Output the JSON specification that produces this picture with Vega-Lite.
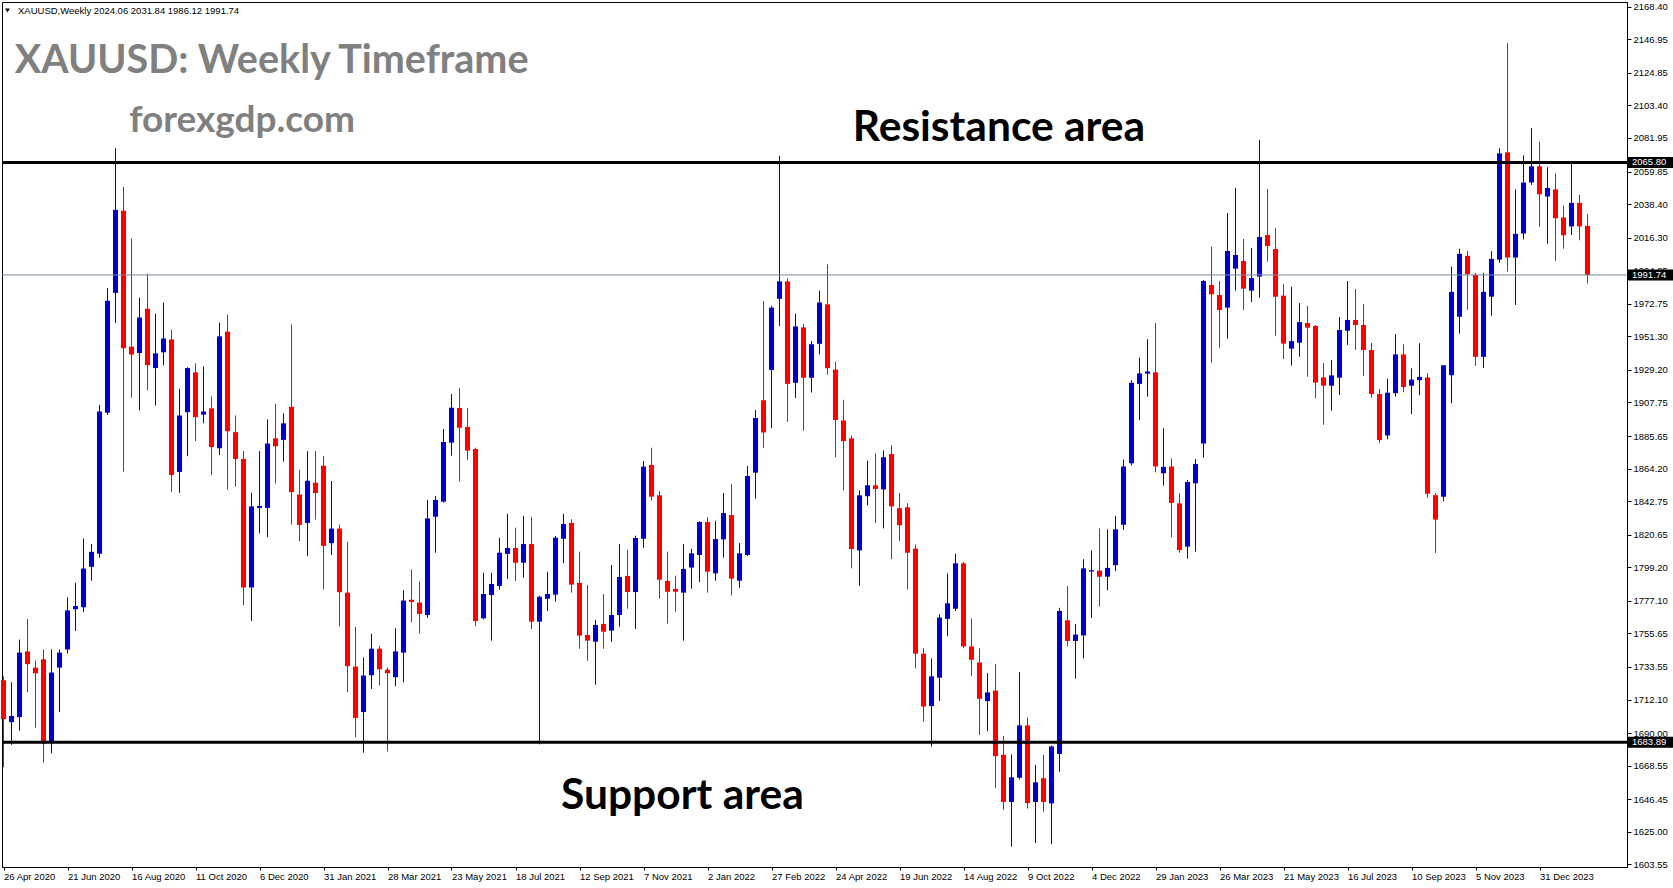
{
"$schema":"https://vega.github.io/schema/vega-lite/v6.json",
"width":1625,"height":865,
"autosize":{"type":"none"},
"padding":{"left":2,"top":2,"right":46,"bottom":21},
"background":"#ffffff",
"config":{"view":{"stroke":"#000000","strokeWidth":1},
"axis":{"grid":false,"labelFont":"Liberation Sans","labelFontSize":9.5,"labelColor":"#000000","tickColor":"#000000","domainColor":"#000000","labelOverlap":false,"labelFlush":false,"labelBound":false},
"font":"Liberation Sans"},
"datasets":{
"candles":[
{"date":"2020-04-26","open":1724.8,"high":1727.4,"low":1667.5,"close":1699.2},
{"date":"2020-05-03","open":1697.2,"high":1723.5,"low":1682.3,"close":1701.3},
{"date":"2020-05-10","open":1700.5,"high":1751.6,"low":1691.7,"close":1743.0},
{"date":"2020-05-17","open":1743.8,"high":1765.1,"low":1716.9,"close":1735.4},
{"date":"2020-05-24","open":1733.1,"high":1737.8,"low":1693.5,"close":1729.4},
{"date":"2020-05-31","open":1738.6,"high":1745.1,"low":1670.6,"close":1683.1},
{"date":"2020-06-07","open":1683.9,"high":1745.1,"low":1676.6,"close":1729.9},
{"date":"2020-06-14","open":1733.1,"high":1745.1,"low":1703.9,"close":1743.0},
{"date":"2020-06-21","open":1745.1,"high":1779.4,"low":1742.4,"close":1770.8},
{"date":"2020-06-28","open":1771.6,"high":1789.1,"low":1757.3,"close":1773.7},
{"date":"2020-07-05","open":1772.9,"high":1818.2,"low":1769.8,"close":1798.4},
{"date":"2020-07-12","open":1799.5,"high":1814.6,"low":1790.4,"close":1809.4},
{"date":"2020-07-19","open":1808.1,"high":1906.2,"low":1805.5,"close":1901.8},
{"date":"2020-07-26","open":1901.0,"high":1983.0,"low":1899.5,"close":1974.7},
{"date":"2020-08-02","open":1979.9,"high":2075.1,"low":1960.1,"close":2034.6},
{"date":"2020-08-09","open":2034.0,"high":2049.7,"low":1862.2,"close":1943.4},
{"date":"2020-08-16","open":1944.5,"high":2015.8,"low":1910.9,"close":1939.3},
{"date":"2020-08-23","open":1940.3,"high":1976.8,"low":1902.6,"close":1963.7},
{"date":"2020-08-30","open":1969.5,"high":1992.6,"low":1915.8,"close":1932.3},
{"date":"2020-09-06","open":1930.4,"high":1966.3,"low":1905.7,"close":1940.1},
{"date":"2020-09-13","open":1940.8,"high":1973.6,"low":1932.2,"close":1949.9},
{"date":"2020-09-20","open":1949.2,"high":1955.7,"low":1848.7,"close":1859.9},
{"date":"2020-09-27","open":1862.0,"high":1916.9,"low":1848.2,"close":1899.2},
{"date":"2020-10-04","open":1901.3,"high":1931.0,"low":1872.4,"close":1930.4},
{"date":"2020-10-11","open":1927.6,"high":1933.5,"low":1882.3,"close":1898.1},
{"date":"2020-10-18","open":1899.7,"high":1931.5,"low":1894.0,"close":1901.8},
{"date":"2020-10-25","open":1903.9,"high":1911.7,"low":1859.9,"close":1878.4},
{"date":"2020-11-01","open":1877.6,"high":1960.4,"low":1873.1,"close":1951.3},
{"date":"2020-11-08","open":1954.4,"high":1965.6,"low":1850.2,"close":1888.8},
{"date":"2020-11-15","open":1888.2,"high":1899.2,"low":1852.3,"close":1870.5},
{"date":"2020-11-22","open":1870.5,"high":1875.7,"low":1774.2,"close":1785.9},
{"date":"2020-11-29","open":1785.9,"high":1848.4,"low":1763.8,"close":1839.3},
{"date":"2020-12-06","open":1838.3,"high":1875.7,"low":1821.6,"close":1839.6},
{"date":"2020-12-13","open":1838.3,"high":1896.6,"low":1819.0,"close":1880.7},
{"date":"2020-12-20","open":1884.1,"high":1906.9,"low":1854.4,"close":1878.9},
{"date":"2020-12-27","open":1883.1,"high":1900.5,"low":1868.7,"close":1894.0},
{"date":"2021-01-03","open":1904.9,"high":1959.1,"low":1827.3,"close":1848.7},
{"date":"2021-01-10","open":1847.1,"high":1863.3,"low":1816.4,"close":1827.1},
{"date":"2021-01-17","open":1828.4,"high":1875.7,"low":1806.5,"close":1856.2},
{"date":"2021-01-24","open":1854.9,"high":1875.7,"low":1830.7,"close":1848.1},
{"date":"2021-01-31","open":1866.1,"high":1872.4,"low":1784.6,"close":1813.3},
{"date":"2021-02-07","open":1815.1,"high":1856.0,"low":1807.3,"close":1824.7},
{"date":"2021-02-14","open":1824.7,"high":1827.3,"low":1760.4,"close":1782.8},
{"date":"2021-02-21","open":1782.5,"high":1815.9,"low":1716.9,"close":1734.1},
{"date":"2021-02-28","open":1733.8,"high":1759.9,"low":1687.3,"close":1700.0},
{"date":"2021-03-07","open":1703.9,"high":1739.9,"low":1677.1,"close":1727.9},
{"date":"2021-03-14","open":1728.1,"high":1755.5,"low":1719.0,"close":1745.6},
{"date":"2021-03-21","open":1745.6,"high":1747.4,"low":1721.4,"close":1732.0},
{"date":"2021-03-28","open":1731.8,"high":1733.3,"low":1677.9,"close":1729.4},
{"date":"2021-04-04","open":1726.8,"high":1759.1,"low":1720.8,"close":1743.8},
{"date":"2021-04-11","open":1743.0,"high":1784.1,"low":1723.5,"close":1777.3},
{"date":"2021-04-18","open":1777.8,"high":1797.7,"low":1763.0,"close":1776.3},
{"date":"2021-04-25","open":1776.0,"high":1789.9,"low":1755.5,"close":1768.5},
{"date":"2021-05-02","open":1767.8,"high":1843.5,"low":1766.0,"close":1831.4},
{"date":"2021-05-09","open":1832.5,"high":1846.2,"low":1808.8,"close":1843.5},
{"date":"2021-05-16","open":1842.4,"high":1890.3,"low":1841.8,"close":1881.7},
{"date":"2021-05-23","open":1881.3,"high":1913.3,"low":1872.7,"close":1904.3},
{"date":"2021-05-30","open":1904.1,"high":1917.3,"low":1855.6,"close":1891.1},
{"date":"2021-06-06","open":1891.6,"high":1904.1,"low":1869.9,"close":1876.0},
{"date":"2021-06-13","open":1877.1,"high":1878.0,"low":1760.5,"close":1763.8},
{"date":"2021-06-20","open":1765.6,"high":1795.7,"low":1764.9,"close":1781.6},
{"date":"2021-06-27","open":1780.9,"high":1795.7,"low":1750.9,"close":1788.2},
{"date":"2021-07-04","open":1786.9,"high":1818.7,"low":1784.5,"close":1808.8},
{"date":"2021-07-11","open":1808.0,"high":1834.5,"low":1791.5,"close":1811.9},
{"date":"2021-07-18","open":1811.9,"high":1825.3,"low":1790.2,"close":1802.2},
{"date":"2021-07-25","open":1802.2,"high":1833.0,"low":1792.4,"close":1814.5},
{"date":"2021-08-01","open":1814.5,"high":1832.3,"low":1758.5,"close":1763.4},
{"date":"2021-08-08","open":1763.4,"high":1780.5,"low":1682.6,"close":1779.8},
{"date":"2021-08-15","open":1778.5,"high":1796.3,"low":1770.4,"close":1781.6},
{"date":"2021-08-22","open":1781.2,"high":1819.8,"low":1776.6,"close":1818.7},
{"date":"2021-08-29","open":1818.0,"high":1834.5,"low":1801.8,"close":1827.7},
{"date":"2021-09-05","open":1828.4,"high":1830.8,"low":1782.5,"close":1787.8},
{"date":"2021-09-12","open":1788.9,"high":1809.5,"low":1745.6,"close":1754.2},
{"date":"2021-09-19","open":1754.6,"high":1787.5,"low":1737.7,"close":1750.9},
{"date":"2021-09-26","open":1750.2,"high":1764.5,"low":1721.9,"close":1761.2},
{"date":"2021-10-03","open":1761.9,"high":1781.6,"low":1745.6,"close":1756.8},
{"date":"2021-10-10","open":1757.5,"high":1800.7,"low":1750.2,"close":1767.8},
{"date":"2021-10-17","open":1767.8,"high":1814.5,"low":1760.1,"close":1792.8},
{"date":"2021-10-24","open":1793.5,"high":1810.6,"low":1771.9,"close":1782.9},
{"date":"2021-10-31","open":1782.9,"high":1820.0,"low":1758.5,"close":1818.5},
{"date":"2021-11-07","open":1818.0,"high":1869.2,"low":1812.1,"close":1865.5},
{"date":"2021-11-14","open":1866.6,"high":1877.9,"low":1843.1,"close":1845.7},
{"date":"2021-11-21","open":1846.6,"high":1849.4,"low":1778.5,"close":1791.0},
{"date":"2021-11-28","open":1790.2,"high":1809.5,"low":1762.1,"close":1783.1},
{"date":"2021-12-05","open":1784.9,"high":1793.7,"low":1770.0,"close":1783.1},
{"date":"2021-12-12","open":1782.5,"high":1814.5,"low":1750.9,"close":1798.1},
{"date":"2021-12-19","open":1799.0,"high":1811.5,"low":1785.1,"close":1808.4},
{"date":"2021-12-26","open":1807.3,"high":1829.5,"low":1789.5,"close":1829.0},
{"date":"2022-01-02","open":1829.0,"high":1832.1,"low":1782.5,"close":1796.3},
{"date":"2022-01-09","open":1795.2,"high":1829.9,"low":1790.4,"close":1817.8},
{"date":"2022-01-16","open":1817.6,"high":1848.1,"low":1805.5,"close":1834.9},
{"date":"2022-01-23","open":1833.6,"high":1854.0,"low":1780.7,"close":1791.7},
{"date":"2022-01-30","open":1790.4,"high":1815.2,"low":1785.8,"close":1808.4},
{"date":"2022-02-06","open":1807.3,"high":1865.9,"low":1806.6,"close":1859.3},
{"date":"2022-02-13","open":1861.5,"high":1902.8,"low":1844.4,"close":1897.5},
{"date":"2022-02-20","open":1909.2,"high":1974.5,"low":1877.7,"close":1888.0},
{"date":"2022-02-27","open":1929.1,"high":1971.4,"low":1890.7,"close":1970.2},
{"date":"2022-03-06","open":1976.0,"high":2070.3,"low":1958.1,"close":1987.5},
{"date":"2022-03-13","open":1987.5,"high":1989.6,"low":1894.9,"close":1920.0},
{"date":"2022-03-20","open":1920.7,"high":1966.3,"low":1910.7,"close":1957.8},
{"date":"2022-03-27","open":1957.2,"high":1959.4,"low":1889.2,"close":1924.0},
{"date":"2022-04-03","open":1924.0,"high":1948.2,"low":1914.3,"close":1946.1},
{"date":"2022-04-10","open":1946.4,"high":1981.4,"low":1939.4,"close":1973.6},
{"date":"2022-04-17","open":1972.4,"high":1998.7,"low":1926.1,"close":1930.3},
{"date":"2022-04-24","open":1929.4,"high":1934.6,"low":1871.7,"close":1896.2},
{"date":"2022-05-01","open":1895.9,"high":1909.5,"low":1849.9,"close":1882.3},
{"date":"2022-05-08","open":1884.1,"high":1885.9,"low":1798.5,"close":1811.2},
{"date":"2022-05-15","open":1810.3,"high":1849.9,"low":1787.0,"close":1846.6},
{"date":"2022-05-22","open":1846.0,"high":1869.5,"low":1839.9,"close":1853.2},
{"date":"2022-05-29","open":1853.2,"high":1874.1,"low":1828.4,"close":1850.8},
{"date":"2022-06-05","open":1850.5,"high":1876.2,"low":1824.8,"close":1871.7},
{"date":"2022-06-12","open":1873.8,"high":1879.5,"low":1804.5,"close":1839.3},
{"date":"2022-06-19","open":1838.1,"high":1848.1,"low":1816.6,"close":1826.9},
{"date":"2022-06-26","open":1838.7,"high":1841.4,"low":1784.6,"close":1808.8},
{"date":"2022-07-03","open":1811.5,"high":1814.2,"low":1732.6,"close":1742.3},
{"date":"2022-07-10","open":1742.3,"high":1745.9,"low":1697.5,"close":1707.5},
{"date":"2022-07-17","open":1707.8,"high":1739.2,"low":1681.2,"close":1727.4},
{"date":"2022-07-24","open":1726.5,"high":1768.2,"low":1711.1,"close":1766.1},
{"date":"2022-07-31","open":1765.2,"high":1795.2,"low":1753.7,"close":1775.5},
{"date":"2022-08-07","open":1771.9,"high":1808.2,"low":1770.4,"close":1801.8},
{"date":"2022-08-14","open":1801.8,"high":1802.7,"low":1745.9,"close":1747.1},
{"date":"2022-08-21","open":1747.1,"high":1765.5,"low":1727.7,"close":1738.3},
{"date":"2022-08-28","open":1736.5,"high":1745.9,"low":1688.7,"close":1712.6},
{"date":"2022-09-04","open":1711.1,"high":1729.5,"low":1691.1,"close":1716.8},
{"date":"2022-09-11","open":1718.0,"high":1735.6,"low":1653.9,"close":1674.8},
{"date":"2022-09-18","open":1675.7,"high":1688.1,"low":1639.4,"close":1644.6},
{"date":"2022-09-25","open":1644.6,"high":1676.0,"low":1615.2,"close":1660.9},
{"date":"2022-10-02","open":1660.6,"high":1730.1,"low":1659.4,"close":1695.1},
{"date":"2022-10-09","open":1695.1,"high":1700.2,"low":1640.3,"close":1643.9},
{"date":"2022-10-16","open":1644.6,"high":1669.1,"low":1617.6,"close":1657.6},
{"date":"2022-10-23","open":1660.3,"high":1675.7,"low":1638.2,"close":1644.6},
{"date":"2022-10-30","open":1643.7,"high":1681.8,"low":1617.0,"close":1681.2},
{"date":"2022-11-06","open":1676.3,"high":1772.5,"low":1664.5,"close":1770.4},
{"date":"2022-11-13","open":1764.3,"high":1787.0,"low":1747.1,"close":1750.7},
{"date":"2022-11-20","open":1750.7,"high":1761.9,"low":1725.9,"close":1754.9},
{"date":"2022-11-27","open":1754.3,"high":1804.5,"low":1739.2,"close":1798.5},
{"date":"2022-12-04","open":1796.4,"high":1810.3,"low":1765.8,"close":1797.3},
{"date":"2022-12-11","open":1797.0,"high":1824.8,"low":1773.4,"close":1793.0},
{"date":"2022-12-18","open":1793.0,"high":1824.2,"low":1784.0,"close":1798.8},
{"date":"2022-12-25","open":1800.6,"high":1833.0,"low":1796.7,"close":1824.2},
{"date":"2023-01-01","open":1827.2,"high":1870.2,"low":1823.9,"close":1865.6},
{"date":"2023-01-08","open":1867.7,"high":1922.5,"low":1866.2,"close":1920.7},
{"date":"2023-01-15","open":1920.0,"high":1937.3,"low":1896.2,"close":1926.9},
{"date":"2023-01-22","open":1926.7,"high":1949.4,"low":1911.6,"close":1928.2},
{"date":"2023-01-29","open":1927.6,"high":1960.0,"low":1861.7,"close":1865.6},
{"date":"2023-02-05","open":1861.1,"high":1890.7,"low":1852.9,"close":1865.3},
{"date":"2023-02-12","open":1865.6,"high":1870.9,"low":1818.8,"close":1841.6},
{"date":"2023-02-19","open":1841.3,"high":1847.9,"low":1808.8,"close":1810.6},
{"date":"2023-02-26","open":1812.8,"high":1856.7,"low":1804.9,"close":1855.4},
{"date":"2023-03-05","open":1854.5,"high":1870.5,"low":1809.5,"close":1867.2},
{"date":"2023-03-12","open":1880.8,"high":1988.4,"low":1871.4,"close":1987.7},
{"date":"2023-03-19","open":1985.1,"high":2010.4,"low":1934.0,"close":1979.0},
{"date":"2023-03-26","open":1978.5,"high":1987.7,"low":1943.8,"close":1968.6},
{"date":"2023-04-02","open":1970.2,"high":2032.5,"low":1949.8,"close":2007.5},
{"date":"2023-04-09","open":1995.9,"high":2049.0,"low":1981.4,"close":2004.9},
{"date":"2023-04-16","open":2000.9,"high":2015.4,"low":1968.6,"close":1982.7},
{"date":"2023-04-23","open":1981.4,"high":2009.5,"low":1973.9,"close":1989.7},
{"date":"2023-04-30","open":1990.6,"high":2080.6,"low":1976.8,"close":2016.7},
{"date":"2023-05-07","open":2018.0,"high":2048.3,"low":2000.5,"close":2010.8},
{"date":"2023-05-14","open":2008.8,"high":2022.7,"low":1951.7,"close":1977.4},
{"date":"2023-05-21","open":1978.1,"high":1985.8,"low":1936.4,"close":1946.5},
{"date":"2023-05-28","open":1943.2,"high":1984.0,"low":1932.0,"close":1948.2},
{"date":"2023-06-04","open":1947.1,"high":1973.3,"low":1937.9,"close":1960.7},
{"date":"2023-06-11","open":1960.1,"high":1971.3,"low":1924.7,"close":1957.0},
{"date":"2023-06-18","open":1958.1,"high":1958.8,"low":1910.5,"close":1920.8},
{"date":"2023-06-25","open":1924.3,"high":1933.7,"low":1893.1,"close":1918.8},
{"date":"2023-07-02","open":1918.8,"high":1935.7,"low":1902.4,"close":1925.6},
{"date":"2023-07-09","open":1924.1,"high":1964.0,"low":1912.7,"close":1955.5},
{"date":"2023-07-16","open":1955.0,"high":1987.7,"low":1945.6,"close":1962.1},
{"date":"2023-07-23","open":1962.1,"high":1982.5,"low":1942.3,"close":1958.8},
{"date":"2023-07-30","open":1958.8,"high":1972.6,"low":1925.2,"close":1942.3},
{"date":"2023-08-06","open":1942.3,"high":1946.9,"low":1910.9,"close":1913.3},
{"date":"2023-08-13","open":1913.3,"high":1916.6,"low":1881.0,"close":1883.0},
{"date":"2023-08-20","open":1886.0,"high":1923.4,"low":1883.5,"close":1914.2},
{"date":"2023-08-27","open":1913.9,"high":1952.8,"low":1911.6,"close":1939.4},
{"date":"2023-09-03","open":1939.4,"high":1946.1,"low":1914.5,"close":1917.9},
{"date":"2023-09-10","open":1918.8,"high":1930.2,"low":1900.0,"close":1922.8},
{"date":"2023-09-17","open":1922.4,"high":1946.8,"low":1912.5,"close":1924.6},
{"date":"2023-09-24","open":1924.2,"high":1926.9,"low":1845.0,"close":1847.6},
{"date":"2023-10-01","open":1846.7,"high":1848.1,"low":1808.7,"close":1830.6},
{"date":"2023-10-08","open":1845.6,"high":1932.2,"low":1842.7,"close":1932.2},
{"date":"2023-10-15","open":1925.7,"high":1997.3,"low":1907.2,"close":1980.6},
{"date":"2023-10-22","open":1964.2,"high":2009.0,"low":1953.0,"close":2005.6},
{"date":"2023-10-29","open":2004.3,"high":2007.6,"low":1968.7,"close":1992.2},
{"date":"2023-11-05","open":1991.7,"high":1993.1,"low":1931.8,"close":1937.8},
{"date":"2023-11-12","open":1937.8,"high":1993.1,"low":1930.4,"close":1980.6},
{"date":"2023-11-19","open":1977.4,"high":2007.4,"low":1964.9,"close":2002.3},
{"date":"2023-11-26","open":2001.8,"high":2075.2,"low":1999.8,"close":2071.8},
{"date":"2023-12-03","open":2072.5,"high":2144.3,"low":1994.0,"close":2003.2},
{"date":"2023-12-10","open":2003.2,"high":2048.1,"low":1972.0,"close":2018.8},
{"date":"2023-12-17","open":2019.0,"high":2070.5,"low":2015.2,"close":2052.6},
{"date":"2023-12-24","open":2052.6,"high":2088.4,"low":2051.0,"close":2063.3},
{"date":"2023-12-31","open":2063.3,"high":2079.5,"low":2023.5,"close":2044.8},
{"date":"2024-01-07","open":2043.4,"high":2062.7,"low":2012.3,"close":2049.0},
{"date":"2024-01-14","open":2048.1,"high":2058.6,"low":2001.1,"close":2029.1},
{"date":"2024-01-21","open":2029.6,"high":2037.4,"low":2009.0,"close":2017.9},
{"date":"2024-01-28","open":2023.7,"high":2065.4,"low":2018.1,"close":2039.2},
{"date":"2024-02-04","open":2039.2,"high":2044.5,"low":2014.6,"close":2023.7},
{"date":"2024-02-11","open":2024.06,"high":2031.84,"low":1986.12,"close":1991.74}
],
"levels":[
{"price":2065.80,"label":"2065.80","kind":"zone"},
{"price":1683.89,"label":"1683.89","kind":"zone"},
{"price":1991.74,"label":"1991.74","kind":"bid"}
]
},
"layer":[
{
"data":{"name":"candles"},
"mark":{"type":"rule","strokeWidth":1},
"encoding":{
"x":{"field":"date","type":"temporal",
"scale":{"type":"utc","padding":0,"domain":[{"year":2020,"month":4,"date":24,"hours":16,"minutes":30,"utc":true},{"year":2024,"month":3,"date":16,"hours":13,"minutes":30,"utc":true}]},
"axis":{"orient":"bottom","title":null,"format":"%-d %b %Y","labelAlign":"left","labelBaseline":"top","tickSize":3,"labelPadding":1,"labelOverlap":false,
"values":[
{"year":2020,"month":4,"date":26,"utc":true},{"year":2020,"month":6,"date":21,"utc":true},{"year":2020,"month":8,"date":16,"utc":true},{"year":2020,"month":10,"date":11,"utc":true},{"year":2020,"month":12,"date":6,"utc":true},
{"year":2021,"month":1,"date":31,"utc":true},{"year":2021,"month":3,"date":28,"utc":true},{"year":2021,"month":5,"date":23,"utc":true},{"year":2021,"month":7,"date":18,"utc":true},{"year":2021,"month":9,"date":12,"utc":true},{"year":2021,"month":11,"date":7,"utc":true},
{"year":2022,"month":1,"date":2,"utc":true},{"year":2022,"month":2,"date":27,"utc":true},{"year":2022,"month":4,"date":24,"utc":true},{"year":2022,"month":6,"date":19,"utc":true},{"year":2022,"month":8,"date":14,"utc":true},{"year":2022,"month":10,"date":9,"utc":true},{"year":2022,"month":12,"date":4,"utc":true},
{"year":2023,"month":1,"date":29,"utc":true},{"year":2023,"month":3,"date":26,"utc":true},{"year":2023,"month":5,"date":21,"utc":true},{"year":2023,"month":7,"date":16,"utc":true},{"year":2023,"month":9,"date":10,"utc":true},{"year":2023,"month":11,"date":5,"utc":true},{"year":2023,"month":12,"date":31,"utc":true}
]}},
"y":{"field":"low","type":"quantitative",
"scale":{"domain":[1601.81,2171.5],"nice":false,"zero":false},
"axis":{"orient":"right","title":null,"format":".2f","labelAlign":"left","labelBaseline":"middle","tickSize":4,"labelPadding":2,"labelOverlap":false,"tickCount":27,
"values":[2168.40,2146.95,2124.85,2103.40,2081.95,2059.85,2038.40,2016.30,1994.85,1972.75,1951.30,1929.20,1907.75,1885.65,1864.20,1842.75,1820.65,1799.20,1777.10,1755.65,1733.55,1712.10,1690.00,1668.55,1646.45,1625.00,1603.55]}},
"y2":{"field":"high"},
"color":{"condition":{"test":"datum.close >= datum.open","value":"#0000CD"},"value":"#FF0000"}
}
},
{
"data":{"name":"candles"},
"mark":{"type":"bar","width":5},
"encoding":{
"x":{"field":"date","type":"temporal"},
"y":{"field":"open","type":"quantitative"},
"y2":{"field":"close"},
"color":{"condition":{"test":"datum.close >= datum.open","value":"#0000CD"},"value":"#FF0000"}
}
},
{
"data":{"name":"levels"},
"transform":[{"filter":"datum.kind == 'bid'"}],
"mark":{"type":"rule","color":"#778899","strokeWidth":1},
"encoding":{"y":{"field":"price","type":"quantitative"}}
},
{
"data":{"name":"levels"},
"transform":[{"filter":"datum.kind == 'zone'"}],
"mark":{"type":"rule","color":"#000000","strokeWidth":3},
"encoding":{"y":{"field":"price","type":"quantitative"}}
},
{
"data":{"name":"levels"},
"mark":{"type":"rule","color":"#000000","strokeWidth":11,"strokeCap":"butt"},
"encoding":{
"x":{"datum":{"year":2024,"month":3,"date":17,"hours":10,"minutes":30,"utc":true},"type":"temporal"},
"x2":{"datum":{"year":2024,"month":4,"date":25,"hours":19,"minutes":30,"utc":true}},
"y":{"field":"price","type":"quantitative"}
}
},
{
"data":{"name":"levels"},
"mark":{"type":"text","color":"#ffffff","font":"Liberation Sans","fontSize":9.5,"align":"left","baseline":"middle"},
"encoding":{
"x":{"datum":{"year":2024,"month":3,"date":20,"hours":22,"minutes":30,"utc":true},"type":"temporal"},
"y":{"field":"price","type":"quantitative"},
"text":{"field":"label"}
}
},
{
"data":{"values":[{"label":"XAUUSD,Weekly  2024.06 2031.84 1986.12 1991.74"}]},
"mark":{"type":"text","color":"#000000","font":"Liberation Sans","fontSize":9.5,"align":"left","baseline":"middle"},
"encoding":{
"x":{"datum":{"year":2020,"month":5,"date":8,"hours":16,"minutes":30,"utc":true},"type":"temporal"},
"y":{"datum":2165.6,"type":"quantitative"},
"text":{"field":"label"}
}
},
{
"data":{"values":[{"label":"menu"}]},
"mark":{"type":"point","shape":"triangle-down","filled":true,"color":"#000000","size":22,"opacity":1},
"encoding":{
"x":{"datum":{"year":2020,"month":4,"date":29,"hours":12,"utc":true},"type":"temporal"},
"y":{"datum":2165.9,"type":"quantitative"}
}
},
{
"data":{"values":[{"label":"XAUUSD: Weekly Timeframe"}]},
"mark":{"type":"text","color":"#808080","font":"Lato","fontWeight":"bold","fontSize":39.5,"align":"center","baseline":"alphabetic"},
"encoding":{
"x":{"datum":{"year":2020,"month":12,"date":16,"hours":14,"utc":true},"type":"temporal"},
"y":{"datum":2125.0,"type":"quantitative"},
"text":{"field":"label"}
}
},
{
"data":{"values":[{"label":"forexgdp.com"}]},
"mark":{"type":"text","color":"#808080","font":"Lato","fontWeight":"bold","fontSize":37,"align":"center","baseline":"alphabetic"},
"encoding":{
"x":{"datum":{"year":2020,"month":11,"date":20,"hours":19,"utc":true},"type":"temporal"},
"y":{"datum":2085.8,"type":"quantitative"},
"text":{"field":"label"}
}
},
{
"data":{"values":[{"label":"Resistance area"}]},
"mark":{"type":"text","color":"#000000","font":"Lato","fontWeight":"bold","fontSize":42.5,"align":"center","baseline":"alphabetic"},
"encoding":{
"x":{"datum":{"year":2022,"month":9,"date":14,"utc":true},"type":"temporal"},
"y":{"datum":2080.1,"type":"quantitative"},
"text":{"field":"label"}
}
},
{
"data":{"values":[{"label":"Support area"}]},
"mark":{"type":"text","color":"#000000","font":"Lato","fontWeight":"bold","fontSize":42.5,"align":"center","baseline":"alphabetic"},
"encoding":{
"x":{"datum":{"year":2021,"month":12,"date":11,"hours":1,"utc":true},"type":"temporal"},
"y":{"datum":1640.1,"type":"quantitative"},
"text":{"field":"label"}
}
}
]
}
